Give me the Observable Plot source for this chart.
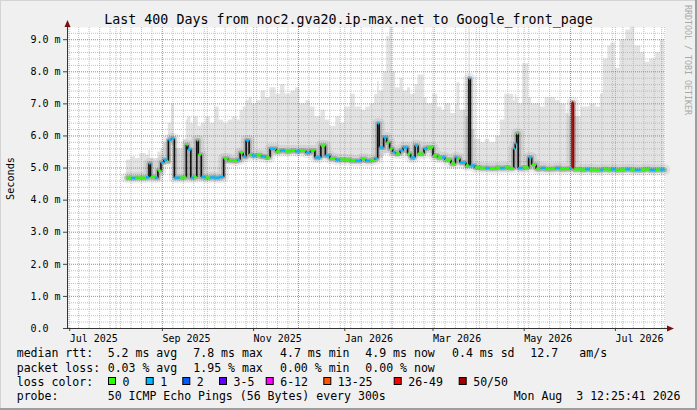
<!DOCTYPE html>
<html>
<head>
<meta charset="utf-8">
<script src="https://cdn.jsdelivr.net/npm/d3@7"></script>
<script src="https://cdn.jsdelivr.net/npm/@observablehq/plot@0.6"></script>
<style>
  body { margin: 0; background: #f0f0f0; overflow: hidden; }
  #chart svg { display: block; }
</style>
</head>
<body>
<div id="chart"></div>
<script>
// time range of the graph (last 400 days)
const xStart = "2025-06-29T12:25:41Z";
const xEnd = "2026-08-03T12:25:41Z";
const yMax = 9.38;

// samples
const dates = [
  "2025-08-08","2025-08-11","2025-08-14","2025-08-17","2025-08-21","2025-08-23","2025-08-24","2025-08-27","2025-08-29","2025-08-31",
  "2025-09-02","2025-09-04","2025-09-05","2025-09-07","2025-09-09","2025-09-13","2025-09-15","2025-09-17","2025-09-18","2025-09-20",
  "2025-09-22","2025-09-24","2025-09-25","2025-09-27","2025-09-30","2025-10-03","2025-10-06","2025-10-09","2025-10-12","2025-10-15",
  "2025-10-18","2025-10-21","2025-10-23","2025-10-25","2025-10-27","2025-10-29","2025-10-31","2025-11-03","2025-11-06","2025-11-09",
  "2025-11-12","2025-11-16","2025-11-19","2025-11-22","2025-11-26","2025-11-29","2025-12-02","2025-12-06","2025-12-09","2025-12-12",
  "2025-12-16","2025-12-19","2025-12-22","2025-12-26","2025-12-29","2026-01-01","2026-01-05","2026-01-08","2026-01-12","2026-01-15",
  "2026-01-18","2026-01-21","2026-01-23","2026-01-24","2026-01-27","2026-01-29","2026-01-31","2026-02-02","2026-02-04","2026-02-07",
  "2026-02-09","2026-02-12","2026-02-14","2026-02-17","2026-02-19","2026-02-23","2026-02-25","2026-03-01","2026-03-04","2026-03-07",
  "2026-03-09","2026-03-13","2026-03-16","2026-03-17","2026-03-19","2026-03-23","2026-03-25","2026-03-26","2026-03-29","2026-04-02",
  "2026-04-05","2026-04-08","2026-04-12","2026-04-15","2026-04-18","2026-04-21","2026-04-24","2026-04-25","2026-04-26","2026-04-27",
  "2026-04-30","2026-05-04","2026-05-06","2026-05-09","2026-05-12","2026-05-15","2026-05-19","2026-05-22","2026-05-25","2026-05-29",
  "2026-05-31","2026-06-02","2026-06-03","2026-06-08","2026-06-11","2026-06-14","2026-06-18","2026-06-21","2026-06-23","2026-06-26",
  "2026-06-28","2026-07-01","2026-07-04","2026-07-08","2026-07-11","2026-07-14","2026-07-18","2026-07-21","2026-07-24","2026-07-28",
  "2026-07-31","2026-08-03"
];

// median rtt in ms
const median = [
  4.70,4.69,4.70,4.70,4.71,5.14,4.72,4.70,4.92,5.17,
  5.26,5.22,5.88,5.92,4.70,4.70,4.71,5.72,5.58,4.70,
  4.72,5.86,5.42,4.72,4.70,4.71,4.70,4.72,5.30,5.24,
  5.23,5.26,5.48,5.36,5.86,5.42,5.39,5.40,5.36,5.33,
  5.60,5.52,5.55,5.52,5.55,5.52,5.55,5.48,5.55,5.33,
  5.70,5.39,5.30,5.26,5.27,5.26,5.23,5.23,5.28,5.23,
  5.25,5.30,6.39,5.64,5.95,5.80,5.60,5.50,5.45,5.55,
  5.64,5.45,5.33,5.70,5.45,5.60,5.64,5.39,5.33,5.33,
  5.26,5.14,5.33,5.30,5.17,5.08,7.79,5.08,5.02,5.00,
  5.00,4.99,5.01,5.00,5.02,5.00,5.60,5.76,6.07,5.00,
  5.02,5.33,5.10,4.98,5.00,4.97,4.98,5.00,4.97,4.98,
  4.99,7.04,4.96,4.95,4.96,4.95,4.94,4.95,4.96,4.95,
  4.96,4.94,4.95,4.96,4.95,4.94,4.95,4.96,4.94,4.95,
  4.95,4.94
];

// lost pings out of 50
const loss = [
  0,1,0,0,1,1,0,1,0,1,
  1,0,1,1,1,0,0,0,1,1,
  0,0,0,1,0,1,1,1,0,0,
  0,1,0,1,1,0,1,0,1,0,
  1,0,1,0,0,1,0,1,0,1,
  0,1,0,1,0,0,0,1,0,1,
  0,1,1,1,1,0,0,1,0,1,
  1,0,1,1,0,1,0,0,0,1,
  0,0,1,0,1,0,1,1,0,0,
  1,0,0,1,0,0,1,1,0,1,
  0,1,0,0,1,0,0,1,0,0,
  1,50,0,0,1,0,0,1,0,0,
  1,0,0,1,0,1,0,0,1,0,
  1,0
];

// smoke: lowest and highest ping
const smokeLo = [
  4.58,4.58,4.58,4.58,4.58,4.60,4.60,4.58,4.60,4.75,
  5.10,5.10,5.10,5.70,4.58,4.58,4.58,4.60,4.60,4.58,
  4.58,4.60,4.60,4.58,4.58,4.58,4.58,4.58,5.12,5.12,
  5.12,5.12,5.15,5.20,5.25,5.28,5.26,5.26,5.24,5.22,
  5.40,5.40,5.42,5.40,5.42,5.40,5.42,5.36,5.42,5.20,
  5.30,5.26,5.18,5.14,5.14,5.14,5.12,5.12,5.15,5.12,
  5.12,5.15,5.20,5.30,5.40,5.45,5.40,5.35,5.32,5.40,
  5.45,5.32,5.20,5.35,5.32,5.42,5.45,5.26,5.20,5.20,
  5.14,5.02,5.10,5.15,5.05,4.96,5.00,4.96,4.90,4.88,
  4.88,4.87,4.88,4.88,4.88,4.88,4.90,4.95,5.00,4.88,
  4.88,4.95,4.92,4.86,4.86,4.85,4.85,4.86,4.85,4.85,
  4.86,4.90,4.84,4.83,4.84,4.83,4.82,4.83,4.84,4.83,
  4.84,4.82,4.83,4.84,4.83,4.82,4.83,4.84,4.82,4.83,
  4.83,4.82
];
const smokeHi = [
  5.25,5.35,5.30,5.45,5.40,5.55,5.30,5.30,5.50,5.60,
  5.80,5.90,6.40,7.00,5.60,5.60,5.90,6.50,6.60,6.40,
  6.60,6.60,6.30,6.40,6.60,6.40,6.90,6.50,6.40,6.50,
  6.60,6.50,6.80,6.90,7.10,7.20,7.00,7.10,7.40,7.20,
  7.50,7.30,7.60,7.30,7.40,7.50,7.00,7.10,6.90,6.60,
  6.80,6.50,6.30,6.60,6.40,6.90,7.30,6.90,6.80,6.90,
  7.00,7.30,7.70,7.40,8.00,9.10,9.40,8.00,7.50,7.80,
  7.40,7.50,7.30,7.60,7.90,7.20,7.00,7.30,6.90,6.80,
  7.00,6.70,7.00,7.66,6.80,6.60,9.40,6.20,5.90,5.80,
  5.90,5.80,6.00,6.50,7.30,7.30,7.10,7.30,7.20,7.00,
  8.25,7.20,7.00,7.00,6.90,7.20,7.20,7.10,7.00,6.70,
  6.60,7.10,6.60,6.90,6.90,7.00,6.90,7.30,8.40,8.80,
  8.90,8.10,9.00,9.30,9.40,8.80,8.60,8.30,8.40,8.60,
  9.00,8.70
];

const yTicks = [0, 1, 2, 3, 4, 5, 6, 7, 8, 9];
const xTicks = ["2025-07-01","2025-09-01","2025-11-01","2026-01-01","2026-03-01","2026-05-01","2026-07-01"];

const lossLabels = ["0", "1", "2", "3-5", "6-12", "13-25", "26-49", "50/50"];
const lossColors = ["#26ff00", "#00b8ff", "#0059ff", "#5e00ff", "#ff00ff", "#ff5500", "#ff0000", "#a10000"];

const title = "Last 400 Days from noc2.gva20.ip-max.net to Google_front_page";
const rttStats = ["median rtt:", "5.2 ms avg", "7.8 ms max", "4.7 ms min", "4.9 ms now", "0.4 ms sd", "12.7", "am/s"];
const lossStats = ["packet loss:", "0.03 % avg", "1.95 % max", "0.00 % min", "0.00 % now"];
const probeText = ["probe:", "50 ICMP Echo Pings (56 Bytes) every 300s", "Mon Aug  3 12:25:41 2026"];

function lossColor(l) {
  if (l == 0) return lossColors[0];
  if (l == 1) return lossColors[1];
  if (l == 2) return lossColors[2];
  if (l <= 5) return lossColors[3];
  if (l <= 12) return lossColors[4];
  if (l <= 25) return lossColors[5];
  if (l <= 49) return lossColors[6];
  return lossColors[7];
}

const rows = dates.map((d, i) => ({
  date: new Date(d),
  next: i < dates.length - 1 ? new Date(dates[i + 1]) : new Date(xEnd),
  med: median[i],
  prev: i > 0 ? median[i - 1] : median[i],
  loss: loss[i],
  prevLoss: i > 0 ? loss[i - 1] : loss[i],
  lo: smokeLo[i],
  hi: smokeHi[i]
}));

const t0 = new Date(xStart), t1 = new Date(xEnd);
const weeks = d3.utcMonday.range(t0, t1);
const months = d3.utcMonth.range(t0, t1);
const minorY = d3.range(0, yMax, 0.2);

const mono = "DejaVu Sans Mono, monospace";

let chart = Plot.plot({
  width: 697,
  height: 410,
  marginLeft: 67,
  marginRight: 32,
  marginTop: 27,
  marginBottom: 82,
  style: { background: "#f0f0f0", fontFamily: mono, fontSize: "10px", color: "black" },
  x: { type: "utc", domain: [t0, t1] },
  y: { domain: [0, yMax] },
  marks: [
    Plot.frame({ fill: "white", stroke: "none" }),
    // smoke
    Plot.areaY(rows, { x: "date", y1: "lo", y2: "hi", curve: "step-after", fill: "#e3e3e3" }),
    // grid
    Plot.ruleX(weeks, { stroke: "#b0b0b0", strokeDasharray: "1,1", strokeOpacity: 0.8 }),
    Plot.ruleY(minorY, { stroke: "#b0b0b0", strokeDasharray: "1,1", strokeOpacity: 0.8 }),
    Plot.ruleX(months, { stroke: "#ff0000", strokeDasharray: "1,1", strokeOpacity: 0.35 }),
    Plot.ruleY(yTicks, { stroke: "#ff0000", strokeDasharray: "1,1", strokeOpacity: 0.35 }),
    // dense smoke around the median
    Plot.line(rows, { x: "date", y: "med", curve: "step-after", stroke: "#000", strokeOpacity: 0.07, strokeWidth: 11 }),
    Plot.line(rows, { x: "date", y: "med", curve: "step-after", stroke: "#000", strokeOpacity: 0.18, strokeWidth: 5 }),
    // median jumps
    Plot.link(rows.slice(1), {
      x1: "date", x2: "date", y1: "prev", y2: "med",
      stroke: d => (d.loss >= 50 || d.prevLoss >= 50) ? lossColors[7] : "#111",
      strokeWidth: 1.6
    }),
    // median coloured by loss
    Plot.link(rows, {
      x1: "date", x2: "next", y1: "med", y2: "med",
      stroke: d => lossColor(d.loss),
      strokeWidth: 2.4
    }),
    Plot.axisY({
      ticks: yTicks,
      tickFormat: d => d === 0 ? "0.0\u00a0\u00a0" : d.toFixed(1) + " m",
      tickSize: 4, tickPadding: 3, label: null, stroke: "#444", fill: "#000"
    }),
    Plot.axisX({
      ticks: xTicks.map(d => new Date(d)),
      tickFormat: d3.utcFormat("%b %Y"),
      textAnchor: "start", tickSize: 3, tickPadding: 3, label: null, stroke: "#444", fill: "#000"
    })
  ]
});

const svg = d3.select(chart);

// axis lines with arrows
svg.append("line").attr("x1", 67.5).attr("x2", 67.5).attr("y1", 328.5).attr("y2", 23).attr("stroke", "#333");
svg.append("path").attr("d", "M64.5,27L70.5,27L67.5,20Z").attr("fill", "#7a0f0f");
svg.append("line").attr("x1", 67).attr("x2", 669).attr("y1", 328.5).attr("y2", 328.5).attr("stroke", "#333");
svg.append("path").attr("d", "M667,325.5L667,331.5L674,328.5Z").attr("fill", "#7a0f0f");

// title and side texts
svg.append("text").attr("x", 348.5).attr("y", 23.5).attr("text-anchor", "middle")
  .attr("font-family", mono).attr("font-size", "13.3px").attr("fill", "#000").text(title);
svg.append("text").attr("transform", "translate(14,178.5) rotate(-90)").attr("text-anchor", "middle")
  .attr("font-family", mono).attr("font-size", "10.2px").attr("fill", "#000").text("Seconds");
svg.append("text").attr("transform", "translate(685,5) rotate(90)").attr("text-anchor", "start")
  .attr("font-family", mono).attr("font-size", "8.3px").attr("fill", "#a8a8a8").text("RRDTOOL / TOBI OETIKER");

// legend
const legend = svg.append("g").attr("font-family", mono).attr("font-size", "11.56px").attr("fill", "#000")
  .attr("text-anchor", "start").style("white-space", "pre");
const rttX = [16.7, 107.7, 193.3, 280, 365.3, 452, 530.3, 579.3];
rttStats.forEach((t, i) => legend.append("text").attr("x", rttX[i]).attr("y", 357).text(t));
lossStats.forEach((t, i) => legend.append("text").attr("x", rttX[i]).attr("y", 371.5).text(t));
legend.append("text").attr("x", 16.7).attr("y", 386).text("loss color:");
const boxX = [108, 145.7, 182.3, 219, 265.7, 323.3, 393.7, 458.7];
lossLabels.forEach((t, i) => {
  legend.append("rect").attr("x", boxX[i] + 0.5).attr("y", 377.5).attr("width", 7).attr("height", 7)
    .attr("fill", lossColors[i]).attr("stroke", "#000");
  legend.append("text").attr("x", boxX[i] + 14.5).attr("y", 386).text(t);
});
legend.append("text").attr("x", 16.7).attr("y", 400).text(probeText[0]);
legend.append("text").attr("x", 107.7).attr("y", 400).text(probeText[1]);
legend.append("text").attr("x", 680.5).attr("y", 400).attr("text-anchor", "end").text(probeText[2]);

// shaded border
svg.append("rect").attr("x", 0).attr("y", 0).attr("width", 697).attr("height", 1).attr("fill", "#d4d4d4");
svg.append("rect").attr("x", 0).attr("y", 0).attr("width", 1).attr("height", 410).attr("fill", "#d4d4d4");
svg.append("rect").attr("x", 0).attr("y", 408).attr("width", 697).attr("height", 2).attr("fill", "#9e9e9e");
svg.append("rect").attr("x", 695).attr("y", 0).attr("width", 2).attr("height", 410).attr("fill", "#9e9e9e");

d3.select("#chart").append(() => chart);
</script>
</body>
</html>
